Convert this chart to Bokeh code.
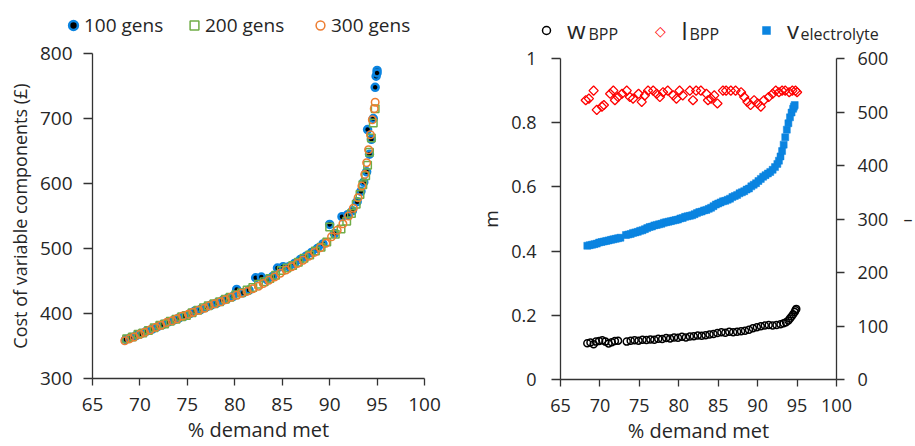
from bokeh.plotting import figure
from bokeh.layouts import row, column
from bokeh.models import (Range1d, LinearAxis, Legend, LegendItem, Label,
                          FixedTicker, CustomJSTickFormatter)
from bokeh.embed import file_html
from bokeh.resources import INLINE

# ---------------- data ----------------
x_ticks = [65, 70, 75, 80, 85, 90, 95, 100]
cost_ticks = [300, 400, 500, 600, 700, 800]
m_ticks = [0, 0.2, 0.4, 0.6, 0.8, 1]
v_ticks = [0, 100, 200, 300, 400, 500, 600]

gen_labels = ["100 gens", "200 gens", "300 gens"]
dim_labels = ["w", "l", "v"]
dim_subs = ["BPP", "BPP", "electrolyte"]

g100_x = [68.5, 69.0, 69.6, 70.1, 70.7, 71.3, 71.9, 72.4, 73.0, 73.6, 74.1, 74.7, 75.3, 75.8,
          76.4, 77.0, 77.5, 78.1, 78.7, 79.2, 79.8, 80.2, 80.9, 81.5, 82.2, 82.8, 83.4, 84.0,
          84.5, 85.1, 85.7, 86.3, 86.9, 87.5, 88.1, 88.7, 89.3, 90.0, 90.5, 91.3, 91.9, 92.4,
          92.9, 93.3, 93.6, 93.9, 94.0, 94.2, 94.4, 94.6, 94.8, 94.9, 95.0, 95.0]
g100_y = [360, 363, 366, 369, 373, 376, 380, 383, 387, 390, 393, 396, 400, 404,
          406, 410, 413, 416, 420, 423, 426, 437, 432, 436, 455, 456, 452, 457,
          470, 472, 472, 477, 483, 488, 494, 500, 507, 537, 523, 549, 552, 558,
          572, 588, 602, 618, 683, 645, 668, 700, 748, 765, 774, 770]

g200_x = [68.6, 69.2, 69.8, 70.3, 70.9, 71.5, 72.1, 72.6, 73.2, 73.8, 74.4, 74.9, 75.5, 76.1,
          76.7, 77.2, 77.8, 78.4, 79.0, 79.5, 80.1, 80.7, 81.3, 81.9, 82.5, 83.1, 83.7, 84.3,
          84.9, 85.5, 86.1, 86.7, 87.3, 87.9, 88.5, 89.1, 89.7, 90.0, 90.6, 91.2, 91.8, 92.3,
          92.8, 93.2, 93.5, 93.8, 94.0, 94.2, 94.4, 94.6, 94.8]
g200_y = [361, 364, 368, 370, 374, 378, 382, 384, 388, 391, 395, 397, 401, 405,
          409, 412, 415, 418, 422, 425, 429, 432, 436, 440, 445, 449, 454, 459,
          466, 470, 474, 479, 485, 490, 496, 502, 510, 533, 522, 530, 542, 554,
          568, 583, 598, 612, 628, 648, 670, 693, 715]

g300_x = [68.4, 68.9, 69.4, 70.0, 70.5, 71.1, 71.7, 72.2, 72.8, 73.4, 73.9, 74.5, 75.1, 75.6,
          76.2, 76.8, 77.3, 77.9, 78.5, 79.0, 79.6, 80.2, 80.7, 81.3, 81.9, 82.5, 83.0, 83.6,
          84.2, 84.8, 85.4, 86.0, 86.6, 87.2, 87.8, 88.4, 89.0, 89.6, 90.2, 90.8, 91.4, 92.0,
          92.5, 93.0, 93.4, 93.7, 93.9, 94.1, 94.3, 94.5, 94.7, 94.8]
g300_y = [358, 361, 364, 368, 371, 375, 379, 382, 386, 389, 392, 396, 399, 402,
          405, 408, 412, 415, 418, 421, 425, 428, 431, 434, 438, 442, 446, 451,
          456, 462, 467, 472, 477, 482, 488, 494, 501, 508, 518, 528, 538, 550,
          562, 578, 596, 614, 632, 652, 675, 698, 715, 725]

w_x = [68.4, 68.8, 69.2, 69.5, 69.9, 70.3, 70.7, 71.1, 71.5, 71.9, 72.3, 73.4, 73.9, 74.4, 74.9,
       75.4, 75.9, 76.4, 76.9, 77.4, 77.9, 78.4, 78.9, 79.4, 79.9, 80.4, 80.9, 81.4, 81.9, 82.4,
       82.9, 83.4, 83.9, 84.4, 84.9, 85.4, 85.9, 86.4, 86.9, 87.4, 87.9, 88.4, 88.9, 89.4, 89.9,
       90.4, 90.9, 91.4, 91.9, 92.4, 92.9, 93.3, 93.6, 93.9, 94.1, 94.3, 94.5, 94.7, 94.8, 94.9]
w_y = [0.113, 0.115, 0.110, 0.118, 0.120, 0.122, 0.118, 0.112, 0.116, 0.120, 0.121, 0.118, 0.121,
       0.122, 0.121, 0.124, 0.123, 0.125, 0.124, 0.127, 0.126, 0.129, 0.128, 0.131, 0.130, 0.133,
       0.131, 0.134, 0.135, 0.137, 0.136, 0.138, 0.140, 0.142, 0.145, 0.147, 0.146, 0.149, 0.147,
       0.149, 0.150, 0.152, 0.155, 0.160, 0.163, 0.166, 0.168, 0.170, 0.168, 0.170, 0.172, 0.175,
       0.178, 0.184, 0.190, 0.196, 0.203, 0.210, 0.216, 0.220]

l_x = [68.2, 68.6, 69.2, 69.6, 70.25, 70.5, 71.3, 71.7, 71.9, 72.3, 72.8, 73.4, 73.8, 74.2, 74.9,
       75.3, 75.7, 76.1, 76.75, 77.2, 77.6, 78.0, 78.6, 79.3, 79.7, 80.1, 80.5, 81.4, 81.8, 82.2,
       82.8, 83.5, 83.7, 84.1, 84.5, 84.9, 85.6, 86.0, 86.6, 87.2, 87.9, 88.3, 88.7, 89.1, 89.55,
       90.0, 90.4, 90.8, 91.4, 91.9, 92.3, 92.7, 93.1, 93.5, 94.0, 94.4, 94.8, 95.0]
l_y = [0.870, 0.875, 0.900, 0.840, 0.850, 0.855, 0.890, 0.900, 0.870, 0.880, 0.890, 0.900, 0.880,
       0.875, 0.890, 0.865, 0.885, 0.900, 0.900, 0.890, 0.880, 0.895, 0.900, 0.885, 0.875, 0.900,
       0.885, 0.900, 0.870, 0.900, 0.900, 0.890, 0.870, 0.875, 0.885, 0.860, 0.900, 0.900, 0.900,
       0.900, 0.895, 0.880, 0.865, 0.855, 0.870, 0.860, 0.850, 0.870, 0.880, 0.890, 0.900, 0.895,
       0.900, 0.900, 0.895, 0.900, 0.900, 0.895]

v_x = [68.4, 68.7, 69.0, 69.3, 69.6, 69.9, 70.2, 70.5, 70.8, 71.1, 71.4, 71.7, 72.0, 72.3, 72.6,
       73.3, 73.6, 73.9, 74.2, 74.5, 74.8, 75.1, 75.4, 75.7, 76.0, 76.3, 76.6, 76.9, 77.2, 77.5,
       77.8, 78.1, 78.4, 78.7, 79.0, 79.3, 79.6, 79.9, 80.2, 80.5, 80.8, 81.1, 81.4, 81.7, 82.0,
       82.3, 82.6, 82.9, 83.2, 83.5, 83.8, 84.1, 84.4, 84.7, 85.0, 85.3, 85.6, 85.9, 86.2, 86.5,
       86.8, 87.1, 87.4, 87.7, 88.0, 88.3, 88.6, 88.9, 89.2, 89.5, 89.8, 90.1, 90.4, 90.7, 91.0,
       91.3, 91.6, 91.9, 92.2, 92.5, 92.7, 92.9, 93.1, 93.3, 93.5, 93.7, 93.9, 94.1, 94.3, 94.5,
       94.6, 94.7]
v_y = [250, 251, 252, 253, 254, 256, 257, 258, 259, 260, 261, 262, 263, 264, 265,
       270, 271, 272, 274, 275, 276, 278, 279, 281, 283, 285, 286, 288, 289, 290,
       291, 293, 294, 295, 296, 297, 298, 299, 301, 302, 304, 305, 306, 307, 309,
       311, 313, 314, 316, 317, 319, 321, 324, 327, 329, 331, 333, 334, 336, 338,
       341, 343, 345, 348, 350, 352, 355, 357, 361, 364, 367, 371, 375, 379, 382,
       385, 388, 392, 397, 403, 409, 417, 427, 439, 453, 467, 479, 490, 499, 506,
       510, 513]

# ---------------- styling ----------------
FONT = "Open Sans"
TXT = "#262626"
AX = "#333333"
BLUE = "#0b84e0"
GREEN = "#70ad47"
ORANGE = "#ed7d31"
RED = "#ff0000"
OFF = 100  # strips: y = -(OFF + pixels from the top), so no data value falls inside


def style_axis(ax, size, tick, standoff, label_size="19px"):
    ax.axis_line_color = AX
    ax.axis_line_width = 1.3
    ax.major_tick_line_color = AX
    ax.major_tick_line_width = 1.3
    ax.major_tick_out = tick
    ax.major_tick_in = 0
    ax.minor_tick_out = 0
    ax.minor_tick_in = 0
    ax.major_label_standoff = standoff
    ax.major_label_text_font = FONT
    ax.major_label_text_font_size = size
    ax.major_label_text_color = TXT
    ax.axis_label_text_font = FONT
    ax.axis_label_text_font_size = label_size
    ax.axis_label_text_color = TXT
    ax.axis_label_text_font_style = "normal"


def one_legend(p, label, rend, vx, vy, gw, gh, standoff, size):
    lg = Legend(items=[LegendItem(label=label, renderers=[rend])], location=(vx, vy),
                orientation="horizontal", padding=0, margin=0, spacing=0,
                glyph_width=gw, glyph_height=gh, label_standoff=standoff,
                label_height=gh, border_line_color=None, background_fill_alpha=0,
                label_text_font=FONT, label_text_font_size=size, label_text_color=TXT)
    p.add_layout(lg)


def strip(w, h):
    s = figure(width=w, height=h, output_backend="svg", toolbar_location=None,
               x_range=Range1d(0, w), y_range=Range1d(-(h + OFF), -OFF),
               x_axis_type=None, y_axis_type=None, min_border=0)
    s.frame_align = False
    s.outline_line_color = None
    s.grid.visible = False
    return s


STYLE_100 = dict(marker="circle", fill_color="black", line_color=BLUE, line_width=2.5)
STYLE_200 = dict(marker="square", fill_color=None, line_color=GREEN, line_width=1.5)
STYLE_300 = dict(marker="circle", fill_color=None, line_color=ORANGE, line_width=1.5)
STYLE_W = dict(marker="circle", fill_color=None, line_color="black", line_width=1.5)
STYLE_L = dict(marker="square", angle=0.785398, fill_color=None, line_color=RED, line_width=1.3)
STYLE_V = dict(marker="square", fill_color=BLUE, line_color=BLUE, line_width=0.5)

# ---------------- left panel ----------------
LH = 40
p1 = figure(width=460, height=446 - LH, output_backend="svg", toolbar_location=None,
            x_range=Range1d(65, 100), y_range=Range1d(300, 800),
            min_border_left=92, min_border_right=36, min_border_top=53 - LH,
            min_border_bottom=68)
p1.frame_align = False
p1.outline_line_color = None
p1.grid.visible = False
p1.xaxis.ticker = FixedTicker(ticks=x_ticks)
p1.yaxis.ticker = FixedTicker(ticks=cost_ticks)
p1.xaxis.axis_label = "% demand met"
p1.yaxis.axis_label = "Cost of variable components (£)"
style_axis(p1.xaxis[0], "19px", 7, 12, "20px")
style_axis(p1.yaxis[0], "19px", 9, 11, "18px")
p1.xaxis.axis_label_standoff = 2
p1.yaxis.axis_label_standoff = 5

p1.scatter(g100_x, g100_y, size=7, **STYLE_100)
p1.scatter(g200_x, g200_y, size=7.5, **STYLE_200)
p1.scatter(g300_x, g300_y, size=7.5, **STYLE_300)

# legend strip: the series are given again, but fall outside this strip's ranges
leg1 = strip(460, LH)
d100 = leg1.scatter(g100_x, g100_y, **STYLE_100)
d200 = leg1.scatter(g200_x, g200_y, **STYLE_200)
d300 = leg1.scatter(g300_x, g300_y, **STYLE_300)
one_legend(leg1, gen_labels[0], d100, 62, 2, 22, 26, 0, "19px")
one_legend(leg1, gen_labels[1], d200, 183, 2, 22, 26, 0, "19px")
one_legend(leg1, gen_labels[2], d300, 309, 2, 22, 26, 0, "19px")

# ---------------- right panel ----------------
RH = 46
p2 = figure(width=455, height=446 - RH, output_backend="svg", toolbar_location=None,
            x_range=Range1d(65, 100), y_range=Range1d(0, 1),
            min_border_left=100, min_border_right=77, min_border_top=58 - RH,
            min_border_bottom=66)
p2.frame_align = False
p2.extra_y_ranges = {"v": Range1d(0, 600)}
p2.outline_line_color = None
p2.grid.visible = False
p2.xaxis.ticker = FixedTicker(ticks=x_ticks)
p2.yaxis.ticker = FixedTicker(ticks=m_ticks)
p2.yaxis.formatter = CustomJSTickFormatter(code="return tick.toString();")
p2.xaxis.axis_label = "% demand met"
p2.yaxis.axis_label = "m"
style_axis(p2.xaxis[0], "18px", 7, 12, "20px")
style_axis(p2.yaxis[0], "18px", 9, 15, "19px")
p2.xaxis.axis_label_standoff = 2
p2.yaxis.axis_label_standoff = 4
rax = LinearAxis(y_range_name="v", ticker=FixedTicker(ticks=v_ticks))
style_axis(rax, "18px", 8, 13, "18px")
rax.axis_label = "–"
rax.axis_label_orientation = "horizontal"
rax.axis_label_standoff = 12
p2.add_layout(rax, "right")

p2.scatter(w_x, w_y, size=7, **STYLE_W)
p2.scatter(l_x, l_y, size=6.5, **STYLE_L)
p2.scatter(v_x, v_y, size=7, y_range_name="v", **STYLE_V)

leg2 = strip(455, RH)
dw = leg2.scatter(w_x, w_y, **STYLE_W)
dv = leg2.scatter(v_x, v_y, **STYLE_V)
one_legend(leg2, dim_labels[0], dw, 76, 0, 20, 32, 11, "24px")
one_legend(leg2, dim_labels[2], dv, 296, 0, 20, 32, 11, "24px")
# the l entry: an open red diamond and its letter
leg2.add_layout(Label(x=200, y=-(OFF + 30), text="◇", text_font="DejaVu Sans",
                      text_font_size="14px", text_color=RED, text_align="center",
                      text_baseline="middle"))
leg2.add_layout(Label(x=221, y=-(OFF + 30), text=dim_labels[1], text_font=FONT,
                      text_font_size="24px", text_color=TXT, text_align="left",
                      text_baseline="middle"))
for sx, sub in zip([128, 229, 340], dim_subs):
    leg2.add_layout(Label(x=sx, y=-(OFF + 33.5), text=sub, text_font=FONT,
                          text_font_size="16px", text_color=TXT, text_baseline="middle",
                          text_align="left"))

layout = row(column(leg1, p1), column(leg2, p2))
open("out.html", "w").write(file_html(layout, INLINE))
